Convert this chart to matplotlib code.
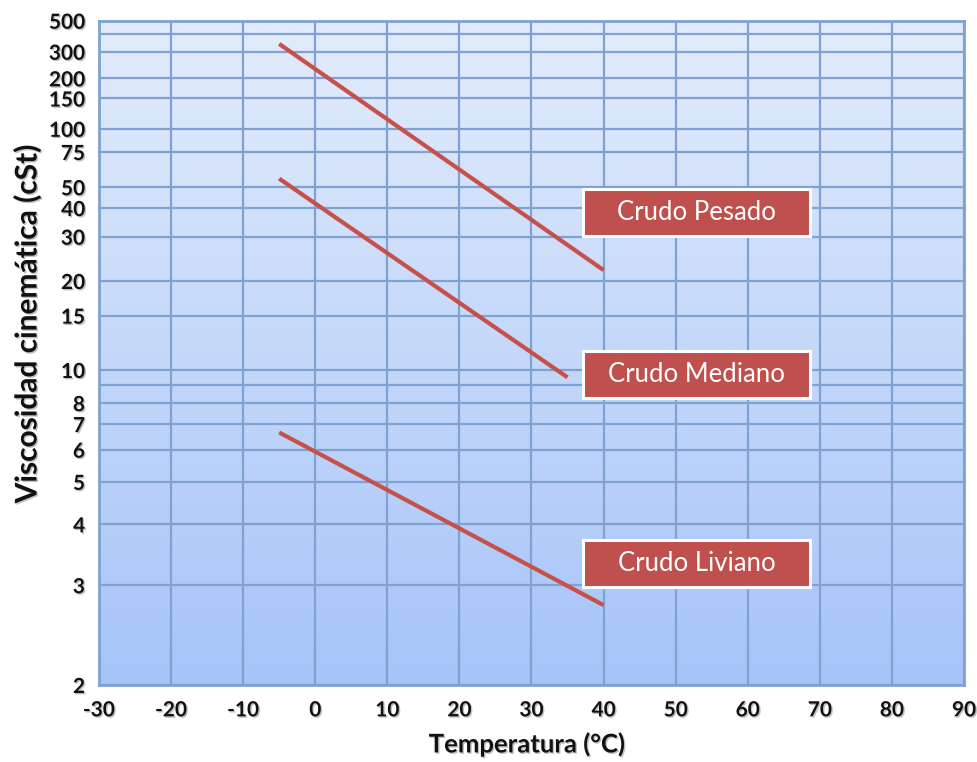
import numpy as np
import matplotlib
matplotlib.use('Agg')
import matplotlib.pyplot as plt
from matplotlib.patches import Rectangle
import matplotlib.patheffects as pe

# temperatura (°C) y viscosidad (cSt) en los extremos de cada recta
crudos = ['Crudo Pesado', 'Crudo Mediano', 'Crudo Liviano']
temp_ini = [-5, -5, -5]
temp_fin = [40, 35, 40]
visc_ini = [340, 55, 6.65]
visc_fin = [22, 9.5, 2.75]

y_ticks = [2, 3, 4, 5, 6, 7, 8, 10, 15, 20, 30, 40, 50, 75, 100, 150, 200, 300, 500]
y_minor = [9, 400]
x_ticks = list(range(-30, 100, 10))

# posicion de las etiquetas (fraccion de ejes: x izq, y inf)
caja_x = [0.5595, 0.5595, 0.5595]
caja_y = [0.676, 0.432, 0.1475]


def fwd(v):
    with np.errstate(invalid='ignore', divide='ignore'):
        return np.log10(np.log10(np.asarray(v, dtype=float) + 0.7))


def inv(y):
    return 10 ** (10 ** np.asarray(y, dtype=float)) - 0.7


plt.rcParams['font.family'] = ['Lato', 'DejaVu Sans']
sombra = [pe.SimplePatchShadow(offset=(1, -1), alpha=0.25), pe.Normal()]

fig = plt.figure(figsize=(9.77, 7.62), dpi=100)
ax = fig.add_axes([0.1013, 0.1010, 0.8854, 0.8718])
ax.set_yscale('function', functions=(fwd, inv))
ax.set_xlim(-30, 90)
ax.set_ylim(2, 500)

# fondo degradado
grad = np.linspace(0, 1, 256).reshape(-1, 1)
c_top = np.array([0.890, 0.925, 0.985])
c_bot = np.array([0.650, 0.769, 0.976])
img = c_bot + (c_top - c_bot) * grad
ax.imshow(img[:, None, :].repeat(2, axis=1), extent=[0, 1, 0, 1], transform=ax.transAxes,
          origin='lower', aspect='auto', zorder=0)

ax.set_xticks(x_ticks)
ax.set_xticklabels([str(t) for t in x_ticks])
ax.set_yticks(y_ticks)
ax.set_yticklabels([str(t) for t in y_ticks])
ax.set_yticks(y_minor, minor=True)
ax.tick_params(axis='both', which='both', length=0)
ax.tick_params(axis='x', pad=11)
ax.tick_params(axis='y', pad=10)
for lab in ax.get_xticklabels() + ax.get_yticklabels():
    lab.set_fontweight('bold')
    lab.set_fontsize(15)
    lab.set_color('#111111')
    lab.set_path_effects(sombra)

gcol = '#7FA2D2'
ax.grid(True, which='both', color=gcol, linewidth=1.6, zorder=1)
ax.set_axisbelow(True)
for s in ax.spines.values():
    s.set_color(gcol)
    s.set_linewidth(2)

for i in range(len(crudos)):
    ax.plot([temp_ini[i], temp_fin[i]], [visc_ini[i], visc_fin[i]], color='#C8504A',
            linewidth=3, solid_capstyle='butt', zorder=3)
    r = Rectangle((caja_x[i], caja_y[i]), 0.2624, 0.0708, transform=ax.transAxes,
                  facecolor='#C0504D', edgecolor='white', linewidth=2.2, zorder=4,
                  path_effects=[pe.SimplePatchShadow(offset=(1.5, -1.5), alpha=0.25), pe.Normal()])
    ax.add_patch(r)
    ax.text(caja_x[i] + 0.1312, caja_y[i] + 0.0354, crudos[i], transform=ax.transAxes,
            ha='center', va='center', color='white', fontsize=18.5, zorder=5)

fig.text(527 / 977, 1 - 744 / 762, 'Temperatura (°C)', ha='center', va='center',
         fontsize=18.5, fontweight='bold', color='#111111', path_effects=sombra)
fig.text(27 / 977, 1 - 324 / 762, 'Viscosidad cinemática (cSt)', ha='center', va='center',
         rotation=90, fontsize=21.5, fontweight='bold', color='#111111', path_effects=sombra)

fig.savefig('out.png', dpi=100)
